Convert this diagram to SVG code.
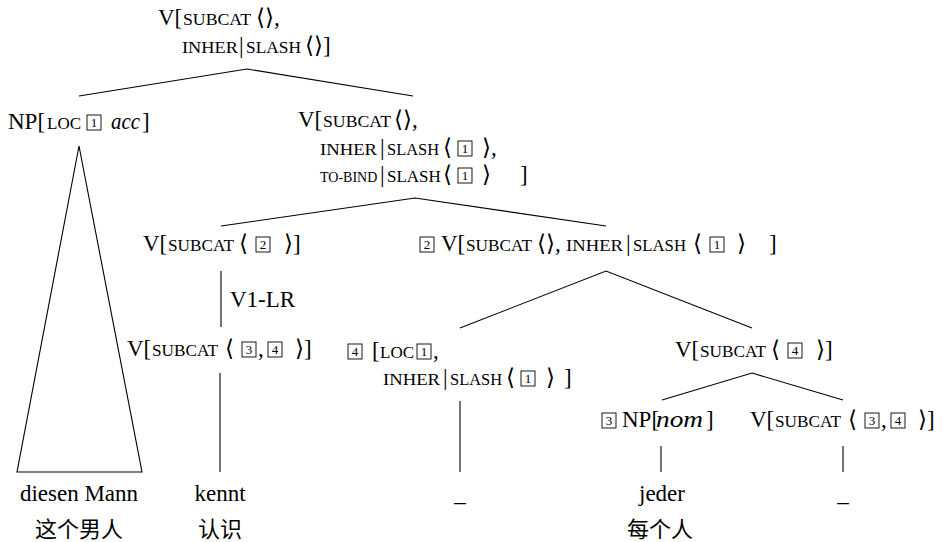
<svg xmlns="http://www.w3.org/2000/svg" width="943" height="542" viewBox="0 0 943 542">
<style>
text{font-family:"Liberation Serif","Times New Roman","DejaVu Serif",serif;font-size:23px;fill:#000}
.sc{font-size:17px}
.it{font-style:italic}
.n{font-size:13px;text-anchor:middle}
.m{text-anchor:middle}
.cjk{font-family:"Noto Sans CJK SC","Noto Sans CJK TC",sans-serif;font-size:22px;text-anchor:middle}
rect.b{fill:none;stroke:#000;stroke-width:0.9}
.edges line,.edges polyline,.edges polygon{fill:none;stroke:#000;stroke-width:1.1}
</style>
<rect width="943" height="542" fill="#fff"/>
<g class="edges" id="connectors">
<polyline points="79,96 247,69 413,96"/>
<polygon points="79,146 17,472 142,472"/>
<polyline points="221,226 415,198 606,226"/>
<line x1="221" y1="271" x2="221" y2="327"/>
<line x1="220" y1="373" x2="220" y2="472"/>
<polyline points="460,328 606,271 752,328"/>
<line x1="460" y1="401" x2="460" y2="472"/>
<polyline points="662,400 752,373 843,400"/>
<line x1="661" y1="446" x2="661" y2="472"/>
<line x1="843" y1="446" x2="843" y2="472"/>
</g>
<g id="n-root">
<text x="158" y="25">V[</text><text class="sc" x="183" y="25" textLength="68" lengthAdjust="spacingAndGlyphs">SUBCAT</text><text x="256" y="25">⟨⟩,</text>
<text class="sc" x="182" y="53" textLength="56" lengthAdjust="spacingAndGlyphs">INHER</text><text x="239" y="53">|</text><text class="sc" x="246" y="53" textLength="55" lengthAdjust="spacingAndGlyphs">SLASH</text><text x="305" y="53">⟨⟩]</text>
</g>
<g id="n-np">
<text x="8" y="129">NP[</text><text class="sc" x="47" y="129">LOC</text>
<rect class="b" x="87" y="115" width="14" height="15"/><text class="n" x="94" y="127">1</text>
<text class="it" x="111" y="129" textLength="29" lengthAdjust="spacingAndGlyphs">acc</text><text x="142" y="129">]</text>
</g>
<g id="n-v1">
<text x="298" y="127">V[</text><text class="sc" x="323" y="127" textLength="68" lengthAdjust="spacingAndGlyphs">SUBCAT</text><text x="394" y="127">⟨⟩,</text>
<text class="sc" x="320" y="155" textLength="57" lengthAdjust="spacingAndGlyphs">INHER</text><text x="380" y="155">|</text><text class="sc" x="387" y="155" textLength="52" lengthAdjust="spacingAndGlyphs">SLASH</text><text x="443" y="155">⟨</text>
<rect class="b" x="458" y="141" width="14" height="15"/><text class="n" x="465" y="153">1</text><text x="482" y="155">⟩,</text>
<text y="182"><tspan class="sc" x="320" style="font-size:14px">TO-BIND</tspan><tspan x="380">|</tspan><tspan class="sc" x="387">SLASH</tspan></text><text x="443" y="182">⟨</text>
<rect class="b" x="458" y="168" width="14" height="15"/><text class="n" x="465" y="180">1</text><text x="482" y="182">⟩</text><text x="520" y="182">]</text>
</g>
<g id="n-v2">
<text x="143" y="251">V[</text><text class="sc" x="168" y="251" textLength="66" lengthAdjust="spacingAndGlyphs">SUBCAT</text><text x="239" y="251">⟨</text>
<rect class="b" x="256" y="237" width="14" height="15"/><text class="n" x="263" y="249">2</text><text x="284" y="251">⟩]</text>
<text x="230" y="307">V1-LR</text>
</g>
<g id="n-v3">
<text x="127" y="356">V[</text><text class="sc" x="152" y="356" textLength="66" lengthAdjust="spacingAndGlyphs">SUBCAT</text><text x="225" y="356">⟨</text>
<rect class="b" x="242" y="342" width="14" height="15"/><text class="n" x="249" y="354">3</text><text x="258" y="356">,</text>
<rect class="b" x="268" y="342" width="14" height="15"/><text class="n" x="275" y="354">4</text><text x="295" y="356">⟩]</text>
</g>
<g id="n-v4">
<rect class="b" x="420" y="237" width="14" height="15"/><text class="n" x="427" y="249">2</text>
<text x="441" y="251">V[</text><text class="sc" x="466" y="251" textLength="66" lengthAdjust="spacingAndGlyphs">SUBCAT</text><text x="537" y="251">⟨⟩,</text>
<text class="sc" x="566" y="251" textLength="57" lengthAdjust="spacingAndGlyphs">INHER</text><text x="626" y="251">|</text><text class="sc" x="633" y="251" textLength="53" lengthAdjust="spacingAndGlyphs">SLASH</text><text x="693" y="251">⟨</text>
<rect class="b" x="710" y="237" width="14" height="15"/><text class="n" x="717" y="249">1</text><text x="737" y="251">⟩</text><text x="769" y="251">]</text>
</g>
<g id="n-v5">
<rect class="b" x="348" y="344" width="14" height="15"/><text class="n" x="355" y="356">4</text>
<text x="372" y="358">[</text><text class="sc" x="380" y="358">LOC</text>
<rect class="b" x="417" y="344" width="14" height="15"/><text class="n" x="424" y="356">1</text><text x="433" y="358">,</text>
<text class="sc" x="383" y="385" textLength="57" lengthAdjust="spacingAndGlyphs">INHER</text><text x="443" y="385">|</text><text class="sc" x="450" y="385" textLength="52" lengthAdjust="spacingAndGlyphs">SLASH</text><text x="506" y="385">⟨</text>
<rect class="b" x="521" y="371" width="14" height="15"/><text class="n" x="528" y="383">1</text><text x="546" y="385">⟩</text><text x="564" y="385">]</text>
</g>
<g id="n-v7">
<text x="675" y="357">V[</text><text class="sc" x="700" y="357" textLength="66" lengthAdjust="spacingAndGlyphs">SUBCAT</text><text x="771" y="357">⟨</text>
<rect class="b" x="788" y="343" width="14" height="15"/><text class="n" x="795" y="355">4</text><text x="816" y="357">⟩]</text>
</g>
<g id="n-np2">
<rect class="b" x="602" y="413" width="14" height="15"/><text class="n" x="609" y="425">3</text>
<text x="622" y="427">NP[</text><text class="it" x="656" y="427" textLength="47" lengthAdjust="spacingAndGlyphs">nom</text><text x="706" y="427">]</text>
</g>
<g id="n-v6">
<text x="750" y="427">V[</text><text class="sc" x="775" y="427" textLength="66" lengthAdjust="spacingAndGlyphs">SUBCAT</text><text x="848" y="427">⟨</text>
<rect class="b" x="865" y="413" width="14" height="15"/><text class="n" x="872" y="425">3</text><text x="881" y="427">,</text>
<rect class="b" x="891" y="413" width="14" height="15"/><text class="n" x="898" y="425">4</text><text x="918" y="427">⟩]</text>
</g>
<g id="leaf-1"><text class="m" x="79" y="501">diesen Mann</text><text class="cjk" x="79" y="537">这个男人</text></g>
<g id="leaf-2"><text class="m" x="220" y="501">kennt</text><text class="cjk" x="220" y="537">认识</text></g>
<g id="leaf-3"><text class="m" x="460" y="501">_</text></g>
<g id="leaf-4"><text class="m" x="662" y="501">jeder</text><text class="cjk" x="660" y="537">每个人</text></g>
<g id="leaf-5"><text class="m" x="843" y="501">_</text></g>
</svg>
